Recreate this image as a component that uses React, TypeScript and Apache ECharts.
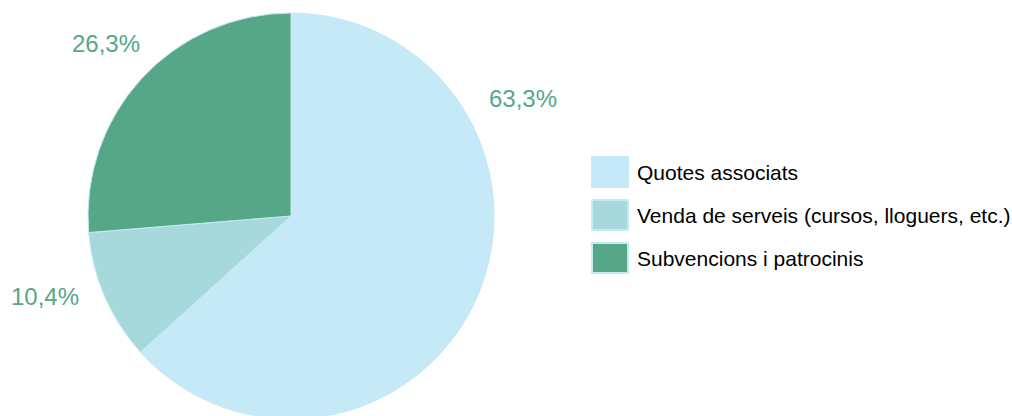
import React, { useEffect, useRef } from "react";
import * as echarts from "echarts";

const categories = [
  "Quotes associats",
  "Venda de serveis (cursos, lloguers, etc.)",
  "Subvencions i patrocinis",
];
const values = [63.3, 10.4, 26.3];
const colors = ["#c6e9f8", "#a6d8dc", "#56a688"];

// label anchor positions (layout only)
const labelPos: [number, number][] = [
  [523, 98],
  [45, 296],
  [106, 43.5],
];

const FONT = "'Liberation Sans', Helvetica, Arial, sans-serif";

export default function App() {
  const ref = useRef<HTMLDivElement>(null);
  useEffect(() => {
    document.body.style.margin = "0";
    const chart = echarts.init(ref.current!, null, { renderer: "svg" });
    chart.setOption({
      animation: false,
      color: colors,
      legend: {
        orient: "vertical",
        left: 591,
        top: 156,
        padding: 0,
        itemWidth: 36,
        itemHeight: 30,
        itemGap: 11,
        icon: "rect",
        selectedMode: false,
        data: categories,
        textStyle: {
          fontFamily: FONT,
          fontSize: 21,
          color: "#000",
          padding: [0, 0, 0, 4],
        },
      },
      series: [
        {
          type: "pie",
          center: [291, 216],
          radius: 203,
          startAngle: 90,
          clockwise: true,
          itemStyle: { borderColor: "#c6e9f8", borderWidth: 1 },
          label: {
            show: true,
            position: "outside",
            overflow: "none",
            edgeDistance: 0,
            bleedMargin: 0,
            fontFamily: FONT,
            fontSize: 24,
            color: "#56a688",
            formatter: (p: any) => p.value.toFixed(1).replace(".", ",") + "%",
          },
          labelLine: { show: false },
          labelLayout: (p: any) => ({
            x: labelPos[p.dataIndex][0],
            y: labelPos[p.dataIndex][1],
            align: "center",
            verticalAlign: "middle",
          }),
          emphasis: { disabled: true },
          data: categories.map((name, i) => ({ name, value: values[i] })),
        },
      ],
    });
    return () => chart.dispose();
  }, []);
  return (
    <div
      ref={ref}
      style={{ position: "absolute", left: 0, top: 0, width: 1012, height: 416 }}
    />
  );
}
